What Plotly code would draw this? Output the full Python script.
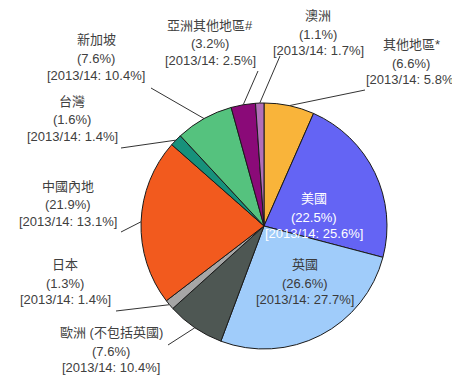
import math
import plotly.graph_objects as go

labels = ["其他地區*", "美國", "英國", "歐洲 (不包括英國)", "日本", "中國內地", "台灣", "新加坡", "亞洲其他地區#", "澳洲"]
share_now = [6.6, 22.5, 26.6, 7.6, 1.3, 21.9, 1.6, 7.6, 3.2, 1.1]
share_prev = [5.8, 25.6, 27.7, 10.4, 1.4, 13.1, 1.4, 10.4, 2.5, 1.7]
colors = ["#F9B43A", "#6464F4", "#A0CCFA", "#4E5753", "#A6A6A6", "#F25A1E", "#17917B", "#55C27E", "#8A0A78", "#B36FB8"]

W, H = 460, 382
CX, CY, R = 256, 218, 123  # pie centre / radius in pixels
TEXT_SHIFT = -6

# centre of the middle text line (px) and leader-line text end (px); None = inside label
label_pos = [(403, 62), (306, 215), (297, 281), (103, 349), (57, 281), (60, 203), (64, 118), (88, 57), (202, 42), (310, 32)]
line_start = [(357, 82), None, None, (160, 337), (108, 303), (113, 224), (113, 140), (143, 80), (250, 63), (272, 48)]
inside_color = [None, "#FFFFFF", "#3a3a3a", None, None, None, None, None, None, None]

fig = go.Figure(go.Pie(
    labels=labels, values=share_now, sort=False, direction="clockwise", rotation=0,
    marker=dict(colors=colors, line=dict(color="#1a1a1a", width=1)),
    textinfo="none", showlegend=False,
    domain=dict(x=[(CX - R) / W, (CX + R) / W], y=[(H - CY - R) / H, (H - CY + R) / H]),
))

total = sum(share_now)
cum = 0.0
shapes, annots = [], []
font_family = "Liberation Sans, Arial, Noto Sans CJK TC, sans-serif"
for i, v in enumerate(share_now):
    mid = (cum + v / 2) / total * 2 * math.pi
    cum += v
    ex = CX + R * math.sin(mid)
    ey = CY - R * math.cos(mid)
    lx, ly = label_pos[i]
    ly += TEXT_SHIFT
    col = inside_color[i] or "#404040"
    lines = [(labels[i], -19), (f"({share_now[i]}%)", 0), (f"[2013/14: {share_prev[i]}%]", 16)]
    for t, dy in lines:
        annots.append(dict(x=lx / W, y=1 - (ly + dy) / H, xref="paper", yref="paper", text=t,
                           showarrow=False, xanchor="center", yanchor="middle",
                           font=dict(size=13, color=col, family=font_family)))
    if line_start[i] is not None:
        sx, sy = line_start[i]
        shapes.append(dict(type="line", xref="paper", yref="paper",
                           x0=sx / W, y0=1 - sy / H, x1=ex / W, y1=1 - ey / H,
                           line=dict(color="#333333", width=1)))

fig.update_layout(width=W, height=H, margin=dict(l=0, r=0, t=0, b=0),
                  paper_bgcolor="white", plot_bgcolor="white",
                  shapes=shapes, annotations=annots)
fig.write_html("out.html")
